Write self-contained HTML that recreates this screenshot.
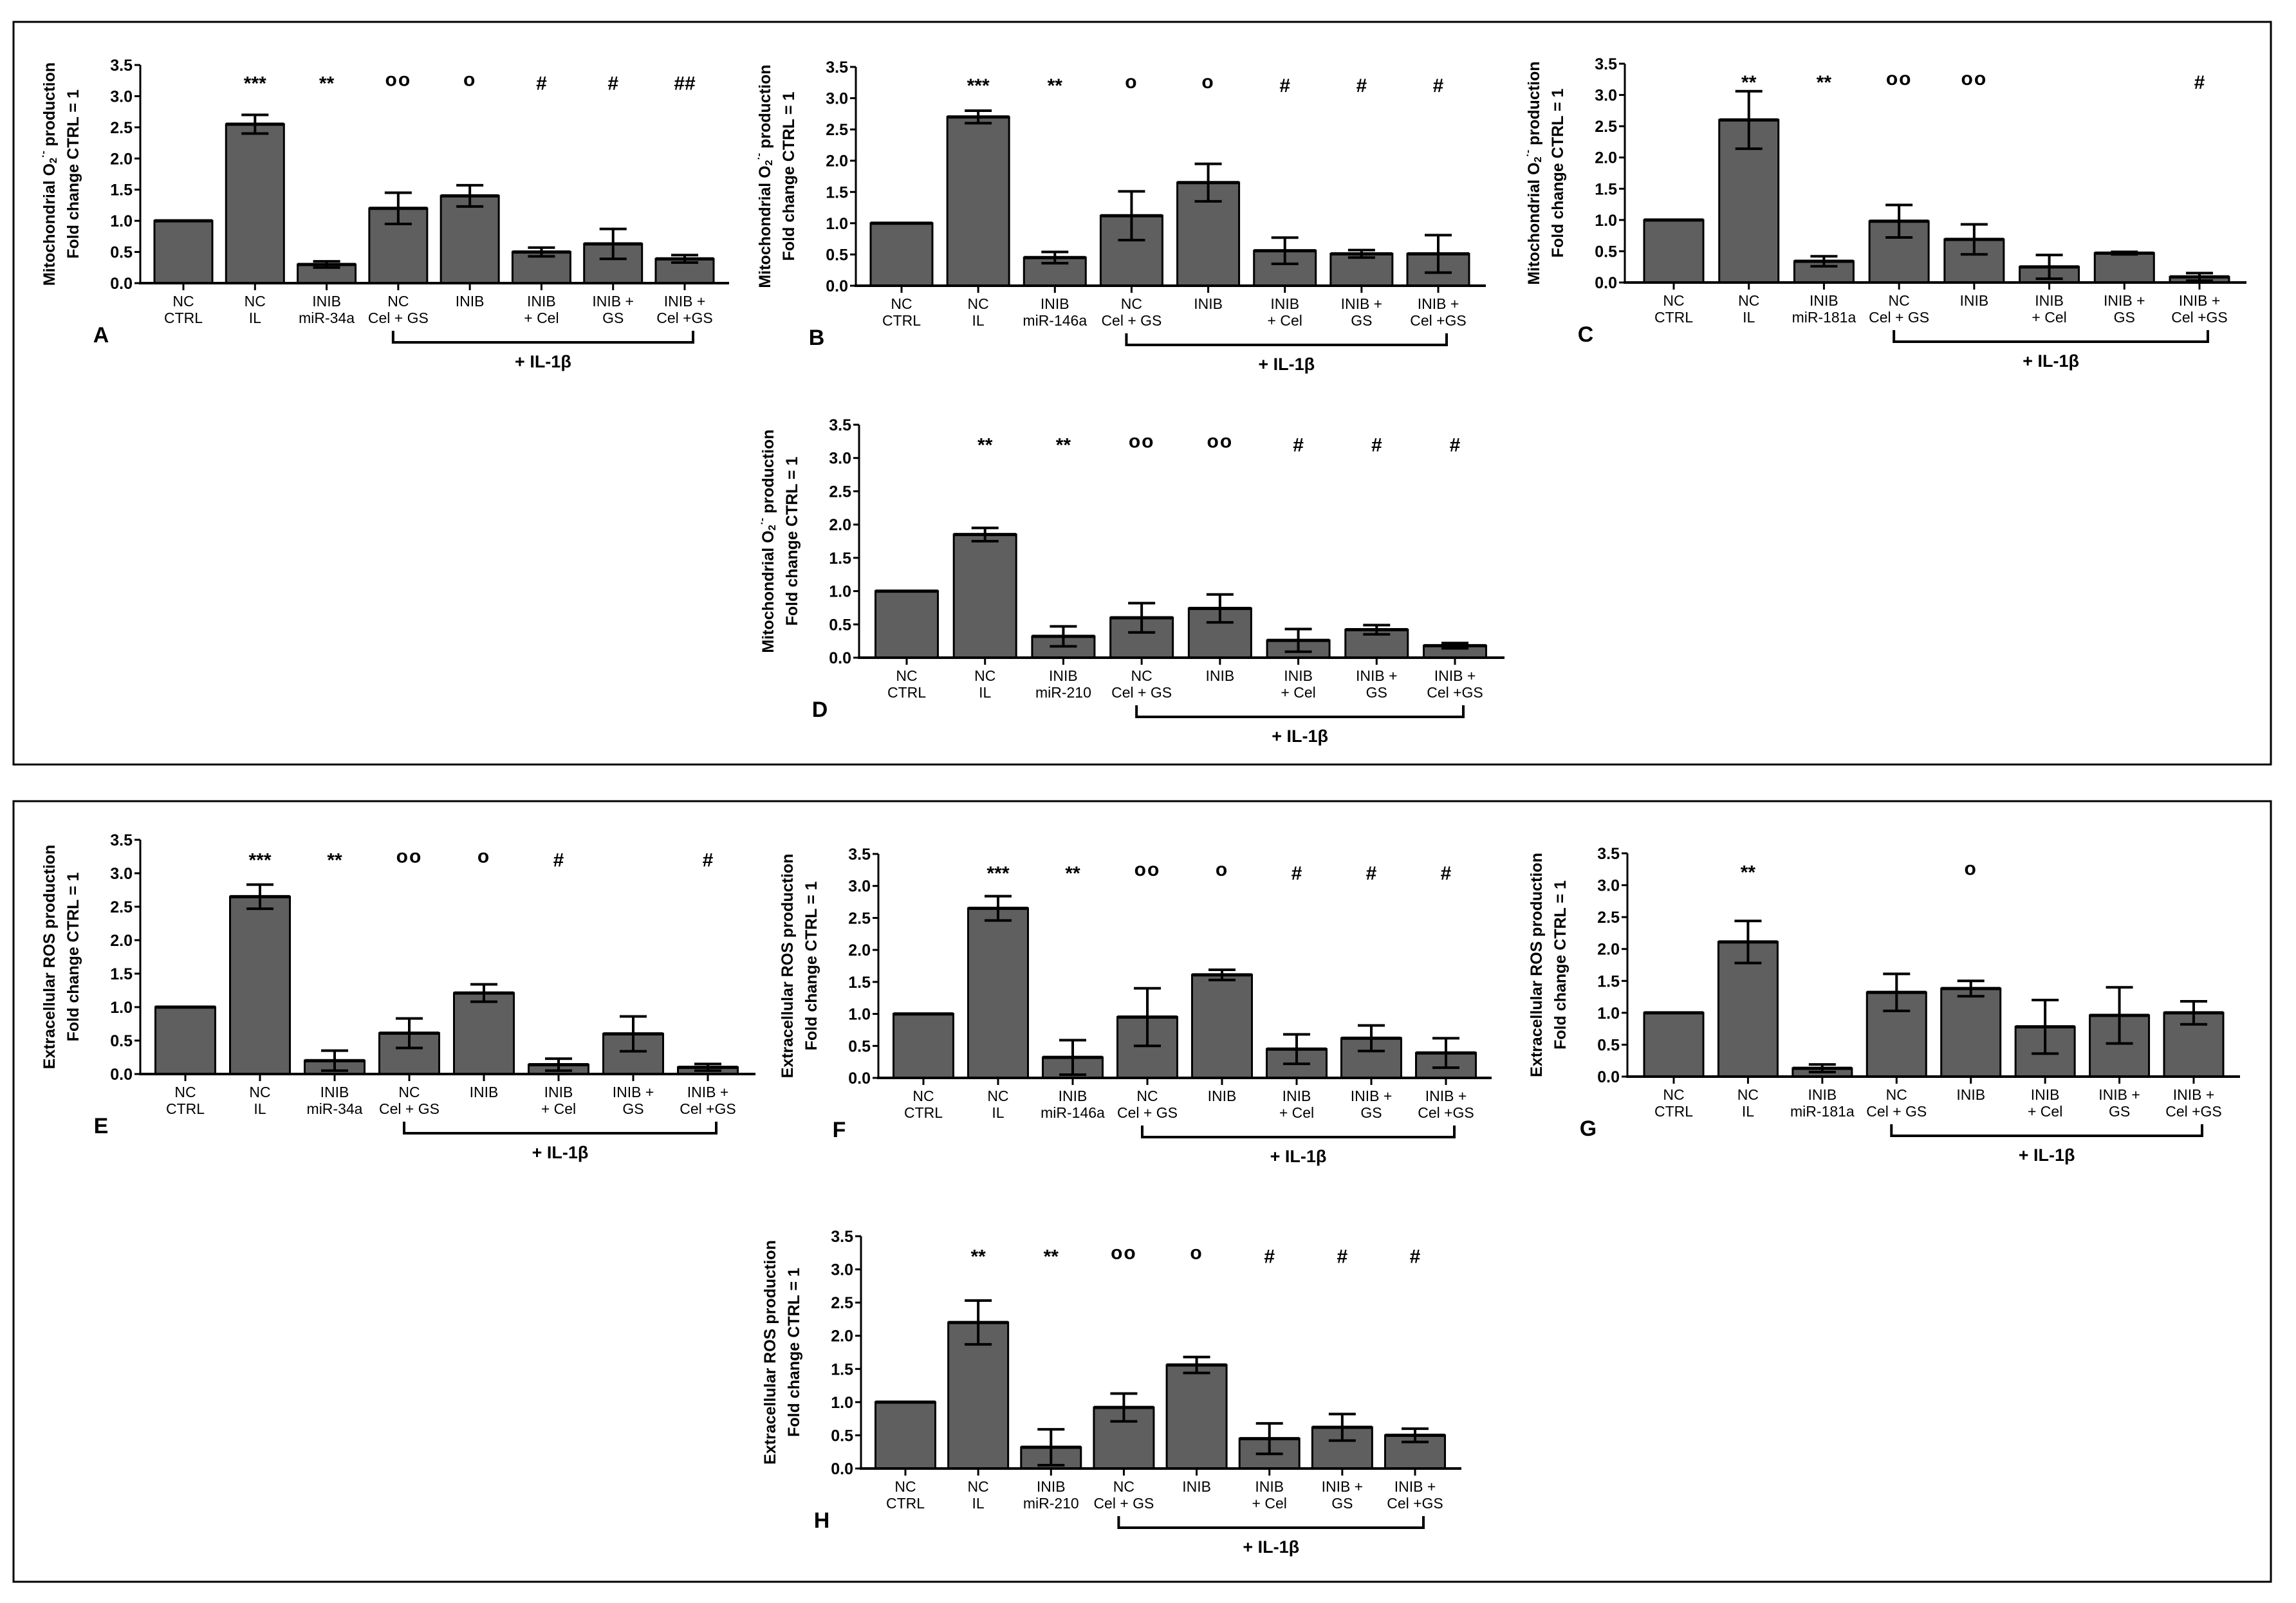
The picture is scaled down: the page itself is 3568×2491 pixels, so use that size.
<!DOCTYPE html>
<html><head><meta charset="utf-8"><style>
html,body{margin:0;padding:0;background:#fff}
svg{display:block}
text{font-family:"Liberation Sans Narrow","Liberation Sans",sans-serif;fill:#000}
.tick{font-size:25px;font-weight:bold}
.cat{font-size:23px}
.ttl{font-family:"Liberation Sans",sans-serif;font-size:25px;font-weight:bold}
.let{font-size:34px;font-weight:bold}
.il{font-size:27px;font-weight:bold}
.mk{font-size:30px}
</style></head><body>
<svg id="fig" width="3568" height="2491" viewBox="0 0 3568 2491" xmlns="http://www.w3.org/2000/svg">
<rect x="0" y="0" width="3568" height="2491" fill="#fff"/>
<rect x="21" y="34" width="3508" height="1154" fill="none" stroke="#000" stroke-width="3"/>
<rect x="21" y="1245" width="3508" height="1213" fill="none" stroke="#000" stroke-width="3"/>
</svg>
<script>
const categories1 = ["NC","NC","INIB","NC","INIB","INIB","INIB +","INIB +"];
const categories2 = ["CTRL","IL","MIR","Cel + GS","","+ Cel","GS","Cel +GS"];
const yTicks = [0,0.5,1.0,1.5,2.0,2.5,3.0,3.5];
const yTickLabels = ["0.0","0.5","1.0","1.5","2.0","2.5","3.0","3.5"];

const valuesA = [1.0,2.55,0.30,1.20,1.40,0.50,0.63,0.39];
const errorsA = [0,0.15,0.05,0.25,0.17,0.07,0.24,0.06];
const marksA = ["","***","**","oo","o","#","#","##"];
const valuesB = [1.0,2.70,0.45,1.12,1.65,0.56,0.51,0.51];
const errorsB = [0,0.10,0.09,0.39,0.30,0.21,0.06,0.30];
const marksB = ["","***","**","o","o","#","#","#"];
const valuesC = [1.0,2.60,0.34,0.98,0.69,0.25,0.47,0.09];
const errorsC = [0,0.46,0.08,0.26,0.24,0.19,0.02,0.06];
const marksC = ["","**","**","oo","oo","","","#"];
const valuesD = [1.0,1.85,0.32,0.60,0.74,0.26,0.42,0.18];
const errorsD = [0,0.10,0.15,0.22,0.21,0.17,0.07,0.04];
const marksD = ["","**","**","oo","oo","#","#","#"];
const valuesE = [1.0,2.65,0.20,0.61,1.21,0.14,0.60,0.10];
const errorsE = [0,0.18,0.15,0.22,0.13,0.09,0.26,0.05];
const marksE = ["","***","**","oo","o","#","","#"];
const valuesF = [1.0,2.65,0.32,0.95,1.61,0.45,0.62,0.39];
const errorsF = [0,0.19,0.27,0.45,0.08,0.23,0.20,0.23];
const marksF = ["","***","**","oo","o","#","#","#"];
const valuesG = [1.0,2.11,0.13,1.32,1.38,0.78,0.96,1.00];
const errorsG = [0,0.33,0.06,0.29,0.12,0.42,0.44,0.18];
const marksG = ["","**","","","o","","",""];
const valuesH = [1.0,2.20,0.32,0.92,1.56,0.45,0.62,0.50];
const errorsH = [0,0.33,0.27,0.21,0.12,0.23,0.20,0.10];
const marksH = ["","**","**","oo","o","#","#","#"];

const NS="http://www.w3.org/2000/svg";
const svg=document.getElementById('fig');
function mk(tag,attrs,parent){const e=document.createElementNS(NS,tag);for(const k in attrs)e.setAttribute(k,attrs[k]);(parent||svg).appendChild(e);return e;}

const panels=[
 {id:"a",letter:"A",mir:"miR-34a",ros:false,ax:218,y0:440,y35:101,c1:285,c8:1064,end:1133,bw:90,v:valuesA,e:errorsA,m:marksA},
 {id:"b",letter:"B",mir:"miR-146a",ros:false,ax:1330,y0:444,y35:104,c1:1401,c8:2235,end:2309,bw:96,v:valuesB,e:errorsB,m:marksB},
 {id:"c",letter:"C",mir:"miR-181a",ros:false,ax:2525,y0:439,y35:99,c1:2601,c8:3418,end:3491,bw:92,v:valuesC,e:errorsC,m:marksC},
 {id:"d",letter:"D",mir:"miR-210",ros:false,ax:1335,y0:1022,y35:660,c1:1409,c8:2261,end:2338,bw:97,v:valuesD,e:errorsD,m:marksD},
 {id:"e",letter:"E",mir:"miR-34a",ros:true,ax:218,y0:1669,y35:1305,c1:288,c8:1100,end:1174,bw:93,v:valuesE,e:errorsE,m:marksE},
 {id:"f",letter:"F",mir:"miR-146a",ros:true,ax:1365,y0:1675,y35:1327,c1:1435,c8:2247,end:2318,bw:93,v:valuesF,e:errorsF,m:marksF},
 {id:"g",letter:"G",mir:"miR-181a",ros:true,ax:2529,y0:1673,y35:1326,c1:2601,c8:3409,end:3481,bw:92,v:valuesG,e:errorsG,m:marksG},
 {id:"h",letter:"H",mir:"miR-210",ros:true,ax:1338,y0:2282,y35:1921,c1:1407,c8:2199,end:2271,bw:93,v:valuesH,e:errorsH,m:marksH}
];

panels.forEach(p=>{
 const g=mk('g',{});
 
 
 const yS=v=>p.y0-(p.y0-p.y35)*v/3.5;
 const xS=i=>p.c1+i*(p.c8-p.c1)/7;
 const ya=mk('line',{x1:p.ax,y1:p.y35,x2:p.ax,y2:p.y0,stroke:'#000','stroke-width':3},g);
 
 
 yTicks.forEach((t,k)=>{
  const y=yS(t);
  mk('line',{x1:p.ax-9,y1:y,x2:p.ax,y2:y,stroke:'#000','stroke-width':3},g);
  const tl=mk('text',{x:p.ax-12,y:y+9,'text-anchor':'end','class':'tick'},g);
  tl.textContent=yTickLabels[k];
  
  
 });
 const tx1=p.ax-141, tx2=p.ax-104, ty=(p.y0+p.y35)/2;
 const t1=mk('text',{x:tx1,y:ty,'text-anchor':'middle','dominant-baseline':'central','class':'ttl',transform:`rotate(-90 ${tx1} ${ty})`},g);
 
 
 if(p.ros){t1.textContent="Extracellular ROS production";}
 else{
  t1.appendChild(document.createTextNode("Mitochondrial O"));
  const s=mk('tspan',{'font-size':'16','dy':'6'},t1);s.textContent="2";
  const s2=mk('tspan',{'font-size':'16','dy':'-16'},t1);s2.textContent="·-";
  const s3=mk('tspan',{'dy':'10'},t1);s3.textContent=" production";
 }
 const t2=mk('text',{x:tx2,y:ty,'text-anchor':'middle','dominant-baseline':'central','class':'ttl',transform:`rotate(-90 ${tx2} ${ty})`},g);
 t2.textContent="Fold change CTRL = 1";
 
 
 p.v.forEach((v,i)=>{
  const cx=xS(i), top=yS(v);
  const r=mk('rect',{x:cx-p.bw/2,y:top,width:p.bw,height:p.y0-top,fill:'#5f5f5f',stroke:'#000','stroke-width':3},g);
  
  
  mk('line',{x1:cx-p.bw/2,y1:top,x2:cx+p.bw/2,y2:top,stroke:'#000','stroke-width':5},g);
  const err=p.e[i];
  if(err>0){
   const eb=mk('path',{d:`M${cx},${yS(v+err)}V${yS(v-err)}M${cx-21},${yS(v+err)}H${cx+21}M${cx-21},${yS(v-err)}H${cx+21}`,stroke:'#000','stroke-width':4,fill:'none'},g);
   
   
  }
  if(p.m[i]){
   const deg=p.m[i].indexOf('o')>=0;
   const mt=mk('text',{x:cx,y:deg?yS(3.1)-6:yS(3.1),'text-anchor':'middle','class':'mk','font-size':deg?'24':'30','font-weight':'bold','letter-spacing':deg?'2':'0'},g);
   mt.textContent=p.m[i];
   
   
  }
  mk('line',{x1:cx,y1:p.y0,x2:cx,y2:p.y0+11,stroke:'#000','stroke-width':3},g);
  const l1=mk('text',{x:cx,y:p.y0+36,'text-anchor':'middle','class':'cat'},g);
  l1.textContent=categories1[i];
  
  
  const l2=mk('text',{x:cx,y:p.y0+62,'text-anchor':'middle','class':'cat'},g);
  l2.textContent=categories2[i]==="MIR"?p.mir:categories2[i];
  
  
 });
 const xa=mk('line',{x1:p.ax-2,y1:p.y0,x2:p.end,y2:p.y0,stroke:'#000','stroke-width':4},g);
 
 
 const lt=mk('text',{x:p.ax-61,y:p.y0+92,'text-anchor':'middle','class':'let'},g);
 lt.textContent=p.letter;
 
 
 const bx1=xS(3)-8, bx2=xS(7)+13, by=p.y0+92;
 const br=mk('path',{d:`M${bx1},${by-18}V${by}H${bx2}V${by-18}`,stroke:'#000','stroke-width':4,fill:'none'},g);
 
 
 const il=mk('text',{x:(bx1+bx2)/2,y:p.y0+131,'text-anchor':'middle','class':'il'},g);
 il.textContent="+ IL-1β";
 
 
});
</script>
</body></html>
